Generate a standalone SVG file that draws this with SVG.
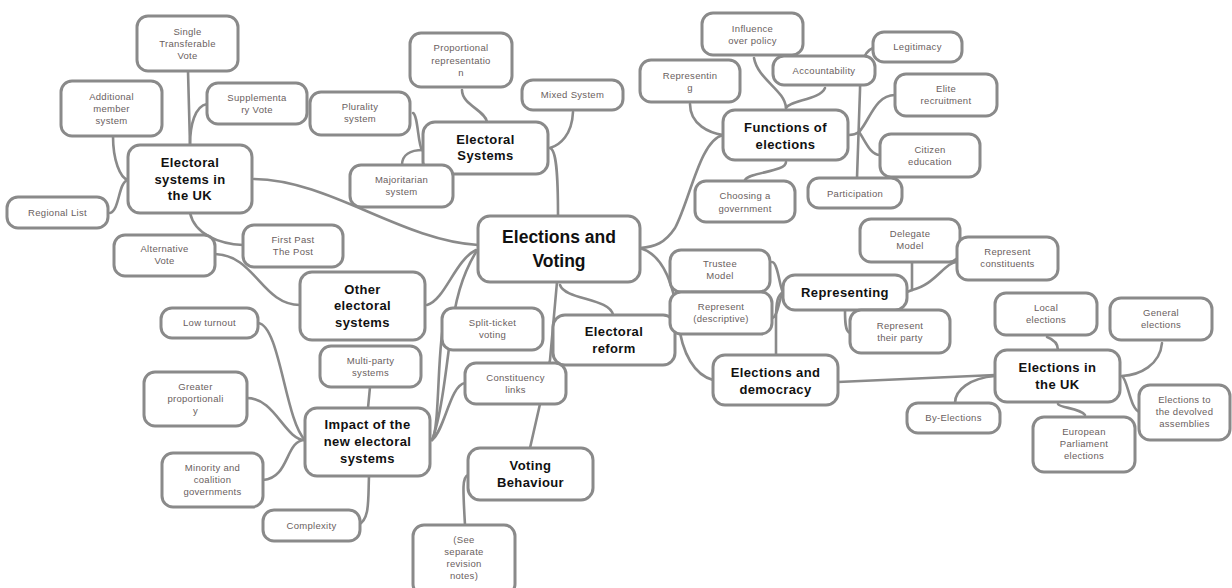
<svg xmlns="http://www.w3.org/2000/svg" width="1232" height="588" viewBox="0 0 1232 588">
<style>
.bg{fill:#fff}
.c path{fill:none;stroke:#8a8a8a;stroke-width:2.6;stroke-linecap:round}
.n rect{fill:#fff;stroke:#8a8a8a;stroke-width:3}
.s{font-family:"Liberation Sans",Arial,sans-serif;font-size:9.5px;fill:#6a6060;text-anchor:middle;letter-spacing:0.3px}
.b{font-family:"Liberation Sans",Arial,sans-serif;font-size:13px;font-weight:bold;fill:#111;text-anchor:middle;letter-spacing:0.4px}
.m{font-family:"Liberation Sans",Arial,sans-serif;font-size:17.5px;font-weight:bold;fill:#111;text-anchor:middle}
</style>
<rect class="bg" x="0" y="0" width="1232" height="588"/>
<g id="connectors" class="c">
<path d="M478,245 C400,240 330,180 254,179"/>
<path d="M476,250 C455,260 445,300 427,305"/>
<path d="M476,252 C462,275 455,300 450,340 C445,380 440,420 432,440"/>
<path d="M432,440 C440,430 437,340 445,318"/>
<path d="M432,440 C445,430 450,385 465,383"/>
<path d="M258,323 C280,325 285,420 305,440"/>
<path d="M247,398 C275,398 285,440 305,440"/>
<path d="M263,480 C290,478 285,440 305,440"/>
<path d="M358,525 C370,520 368,500 369,476"/>
<path d="M370,387 L368,408"/>
<path d="M188,71 L190,145"/>
<path d="M113,136 C113,160 120,178 128,180"/>
<path d="M110,213 C120,210 118,182 128,180"/>
<path d="M207,104 C195,106 190,125 190,145"/>
<path d="M190,213 C195,235 220,244 243,245"/>
<path d="M215,254 C255,255 262,305 300,305"/>
<path d="M462,90 C462,105 485,110 487,122"/>
<path d="M573,112 C572,135 560,145 550,148"/>
<path d="M413,113 C418,115 418,145 422,150"/>
<path d="M402,165 C402,155 410,150 423,150"/>
<path d="M550,148 C556,150 558,170 558,216"/>
<path d="M690,104 C690,125 710,133 723,135"/>
<path d="M754,58 C758,80 785,90 786,108"/>
<path d="M825,88 C820,100 790,100 786,108"/>
<path d="M873,48 C863,52 860,65 860,90 L857,178"/>
<path d="M849,135 C853,135 856,134 859,132"/>
<path d="M859,132 C870,120 875,95 895,95"/>
<path d="M859,132 C865,140 870,155 880,155"/>
<path d="M745,180 C750,172 786,172 786,162"/>
<path d="M723,135 C700,140 690,200 675,228 C665,243 655,247 640,248"/>
<path d="M640,248 C665,255 675,290 678,320 C682,355 695,375 713,380"/>
<path d="M557,282 L550,360 L530,448"/>
<path d="M560,285 C565,300 610,298 613,315"/>
<path d="M468,475 C462,477 463,490 465,525"/>
<path d="M772,262 C778,262 780,290 783,292"/>
<path d="M772,318 C778,318 780,294 783,292"/>
<path d="M783,292 C778,295 776,300 776,320 L776,355"/>
<path d="M912,262 L912,290 L907,292"/>
<path d="M957,262 C945,262 935,285 912,290"/>
<path d="M850,333 C845,332 845,320 845,310"/>
<path d="M838,382 L995,375"/>
<path d="M1047,337 C1055,340 1058,345 1058,350"/>
<path d="M1162,343 C1160,365 1140,375 1122,376"/>
<path d="M1140,412 C1130,410 1128,380 1122,376"/>
<path d="M1085,415 C1080,408 1060,408 1058,404"/>
<path d="M955,403 C955,390 970,378 995,376"/>
</g>
<g id="n-main" class="n"><rect x="478" y="216" width="162" height="66" rx="12"/><text class="m" x="559" y="243">Elections and</text><text class="m" x="559" y="267">Voting</text></g>
<g id="n-stv" class="n"><rect x="137" y="16" width="101" height="55" rx="11"/><text class="s" x="187.5" y="35">Single</text><text class="s" x="187.5" y="47">Transferable</text><text class="s" x="187.5" y="59">Vote</text></g>
<g id="n-ams" class="n"><rect x="61" y="81" width="101" height="55" rx="11"/><text class="s" x="111.5" y="100">Additional</text><text class="s" x="111.5" y="112">member</text><text class="s" x="111.5" y="124">system</text></g>
<g id="n-sv" class="n"><rect x="207" y="83" width="100" height="41" rx="11"/><text class="s" x="257" y="101">Supplementa</text><text class="s" x="257" y="113">ry Vote</text></g>
<g id="n-esuk" class="n"><rect x="128" y="145" width="124" height="68" rx="12"/><text class="b" x="190" y="167">Electoral</text><text class="b" x="190" y="183.5">systems in</text><text class="b" x="190" y="200">the UK</text></g>
<g id="n-rl" class="n"><rect x="7" y="197" width="101" height="31" rx="11"/><text class="s" x="57.5" y="216">Regional List</text></g>
<g id="n-pr" class="n"><rect x="410" y="33" width="102" height="54" rx="11"/><text class="s" x="461" y="51">Proportional</text><text class="s" x="461" y="64">representatio</text><text class="s" x="461" y="76">n</text></g>
<g id="n-mixed" class="n"><rect x="522" y="80" width="101" height="30" rx="11"/><text class="s" x="572.5" y="98">Mixed System</text></g>
<g id="n-plur" class="n"><rect x="310" y="92" width="100" height="43" rx="11"/><text class="s" x="360" y="110">Plurality</text><text class="s" x="360" y="122">system</text></g>
<g id="n-es" class="n"><rect x="423" y="122" width="125" height="52" rx="12"/><text class="b" x="485.5" y="143.5">Electoral</text><text class="b" x="485.5" y="160">Systems</text></g>
<g id="n-maj" class="n"><rect x="350" y="165" width="103" height="42" rx="11"/><text class="s" x="401.5" y="183">Majoritarian</text><text class="s" x="401.5" y="195">system</text></g>
<g id="n-inf" class="n"><rect x="702" y="13" width="101" height="42" rx="11"/><text class="s" x="752.5" y="32">Influence</text><text class="s" x="752.5" y="44">over policy</text></g>
<g id="n-leg" class="n"><rect x="873" y="32" width="89" height="30" rx="11"/><text class="s" x="917.5" y="50">Legitimacy</text></g>
<g id="n-acc" class="n"><rect x="773" y="56" width="102" height="29" rx="11"/><text class="s" x="824" y="74">Accountability</text></g>
<g id="n-rep1" class="n"><rect x="640" y="60" width="100" height="42" rx="11"/><text class="s" x="690" y="79">Representin</text><text class="s" x="690" y="91">g</text></g>
<g id="n-elite" class="n"><rect x="895" y="74" width="102" height="42" rx="11"/><text class="s" x="946" y="92">Elite</text><text class="s" x="946" y="104">recruitment</text></g>
<g id="n-func" class="n"><rect x="723" y="110" width="125" height="50" rx="12"/><text class="b" x="785.5" y="131.5">Functions of</text><text class="b" x="785.5" y="148.5">elections</text></g>
<g id="n-cit" class="n"><rect x="880" y="134" width="100" height="43" rx="11"/><text class="s" x="930" y="153">Citizen</text><text class="s" x="930" y="165">education</text></g>
<g id="n-choose" class="n"><rect x="695" y="181" width="100" height="41" rx="11"/><text class="s" x="745" y="199">Choosing a</text><text class="s" x="745" y="212">government</text></g>
<g id="n-part" class="n"><rect x="808" y="178" width="94" height="30" rx="11"/><text class="s" x="855" y="197">Participation</text></g>
<g id="n-fptp" class="n"><rect x="243" y="225" width="100" height="42" rx="11"/><text class="s" x="293" y="243">First Past</text><text class="s" x="293" y="255">The Post</text></g>
<g id="n-av" class="n"><rect x="114" y="235" width="101" height="41" rx="11"/><text class="s" x="164.5" y="252">Alternative</text><text class="s" x="164.5" y="264">Vote</text></g>
<g id="n-other" class="n"><rect x="300" y="272" width="125" height="68" rx="12"/><text class="b" x="362.5" y="293.5">Other</text><text class="b" x="362.5" y="310">electoral</text><text class="b" x="362.5" y="326.5">systems</text></g>
<g id="n-low" class="n"><rect x="161" y="308" width="97" height="30" rx="11"/><text class="s" x="209.5" y="326">Low turnout</text></g>
<g id="n-multi" class="n"><rect x="320" y="346" width="101" height="41" rx="11"/><text class="s" x="370.5" y="364">Multi-party</text><text class="s" x="370.5" y="376">systems</text></g>
<g id="n-greater" class="n"><rect x="144" y="372" width="103" height="54" rx="11"/><text class="s" x="195.5" y="390">Greater</text><text class="s" x="195.5" y="402">proportionali</text><text class="s" x="195.5" y="414">y</text></g>
<g id="n-split" class="n"><rect x="442" y="308" width="101" height="42" rx="11"/><text class="s" x="492.5" y="326">Split-ticket</text><text class="s" x="492.5" y="338">voting</text></g>
<g id="n-reform" class="n"><rect x="553" y="315" width="122" height="50" rx="12"/><text class="b" x="614" y="336">Electoral</text><text class="b" x="614" y="352.5">reform</text></g>
<g id="n-const" class="n"><rect x="465" y="363" width="101" height="41" rx="11"/><text class="s" x="515.5" y="381">Constituency</text><text class="s" x="515.5" y="393">links</text></g>
<g id="n-deleg" class="n"><rect x="860" y="219" width="100" height="43" rx="11"/><text class="s" x="910" y="237">Delegate</text><text class="s" x="910" y="249">Model</text></g>
<g id="n-trust" class="n"><rect x="670" y="250" width="100" height="42" rx="11"/><text class="s" x="720" y="267">Trustee</text><text class="s" x="720" y="279">Model</text></g>
<g id="n-desc" class="n"><rect x="670" y="292" width="102" height="42" rx="11"/><text class="s" x="721" y="310">Represent</text><text class="s" x="721" y="322">(descriptive)</text></g>
<g id="n-repr" class="n"><rect x="783" y="275" width="124" height="35" rx="12"/><text class="b" x="845" y="297">Representing</text></g>
<g id="n-party" class="n"><rect x="850" y="310" width="100" height="43" rx="11"/><text class="s" x="900" y="329">Represent</text><text class="s" x="900" y="341">their party</text></g>
<g id="n-demo" class="n"><rect x="713" y="355" width="125" height="50" rx="12"/><text class="b" x="775.5" y="376.5">Elections and</text><text class="b" x="775.5" y="393.5">democracy</text></g>
<g id="n-constit" class="n"><rect x="957" y="237" width="101" height="43" rx="11"/><text class="s" x="1007.5" y="255">Represent</text><text class="s" x="1007.5" y="267">constituents</text></g>
<g id="n-local" class="n"><rect x="995" y="293" width="102" height="42" rx="11"/><text class="s" x="1046" y="311">Local</text><text class="s" x="1046" y="323">elections</text></g>
<g id="n-general" class="n"><rect x="1110" y="298" width="102" height="42" rx="11"/><text class="s" x="1161" y="316">General</text><text class="s" x="1161" y="328">elections</text></g>
<g id="n-uk" class="n"><rect x="995" y="350" width="125" height="52" rx="12"/><text class="b" x="1057.5" y="371.5">Elections in</text><text class="b" x="1057.5" y="388.5">the UK</text></g>
<g id="n-by" class="n"><rect x="907" y="403" width="93" height="30" rx="11"/><text class="s" x="953.5" y="421">By-Elections</text></g>
<g id="n-devolved" class="n"><rect x="1139" y="385" width="91" height="55" rx="11"/><text class="s" x="1184.5" y="403">Elections to</text><text class="s" x="1184.5" y="415">the devolved</text><text class="s" x="1184.5" y="427">assemblies</text></g>
<g id="n-euro" class="n"><rect x="1033" y="417" width="102" height="55" rx="11"/><text class="s" x="1084" y="435">European</text><text class="s" x="1084" y="447">Parliament</text><text class="s" x="1084" y="459">elections</text></g>
<g id="n-impact" class="n"><rect x="305" y="408" width="125" height="68" rx="12"/><text class="b" x="367.5" y="428.5">Impact of the</text><text class="b" x="367.5" y="445.5">new electoral</text><text class="b" x="367.5" y="462.5">systems</text></g>
<g id="n-minority" class="n"><rect x="162" y="453" width="101" height="54" rx="11"/><text class="s" x="212.5" y="471">Minority and</text><text class="s" x="212.5" y="483">coalition</text><text class="s" x="212.5" y="495">governments</text></g>
<g id="n-complex" class="n"><rect x="263" y="510" width="97" height="31" rx="11"/><text class="s" x="311.5" y="529">Complexity</text></g>
<g id="n-vb" class="n"><rect x="468" y="448" width="125" height="52" rx="12"/><text class="b" x="530.5" y="469.5">Voting</text><text class="b" x="530.5" y="486.5">Behaviour</text></g>
<g id="n-see" class="n"><rect x="413" y="525" width="102" height="70" rx="11"/><text class="s" x="464" y="543">(See</text><text class="s" x="464" y="555">separate</text><text class="s" x="464" y="567">revision</text><text class="s" x="464" y="579">notes)</text></g>
</svg>
